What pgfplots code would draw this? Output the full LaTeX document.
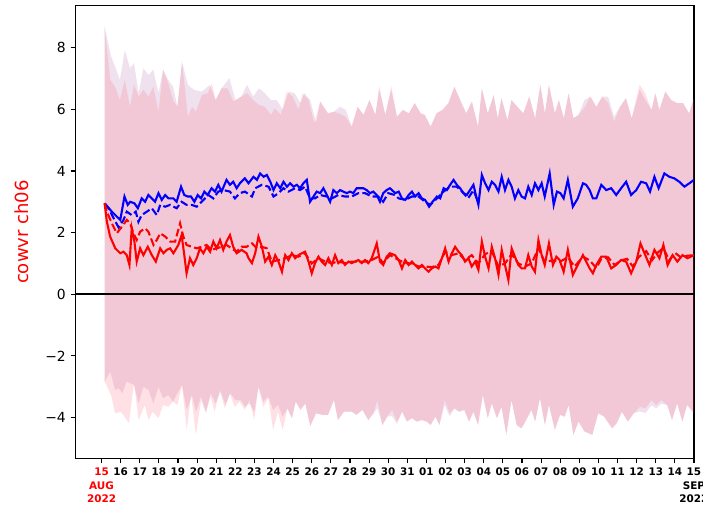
\documentclass[border=0pt]{standalone}
\usepackage{pgfplots}
\pgfplotsset{compat=1.18}
\usepgfplotslibrary{fillbetween}
\usepackage{fontspec}
\setmainfont{DejaVu Sans}
\definecolor{bandR}{RGB}{255,48,75}
\definecolor{bandB}{RGB}{148,55,142}
\begin{document}
\begin{tikzpicture}
\begin{axis}[
  scale only axis, width=445.3pt, height=325.9pt,
  xmin=-1.36, xmax=31, ymin=-5.32, ymax=9.36,
  axis line style={line width=0.8pt},
  tick align=outside, tick pos=left,
  major tick length=3.5pt,
  every tick/.style={black, line width=0.8pt},
  xtick={0,...,31},
  xticklabels={{\textcolor{red}{15}\\\textcolor{red}{AUG}\\\textcolor{red}{2022}},16,17,18,19,20,21,22,23,24,25,26,27,28,29,30,31,01,02,03,04,05,06,07,08,09,10,11,12,13,14,{15\\SEP\\2022}},
  xticklabel style={font=\bfseries\fontsize{7.5}{9.8}\selectfont, align=center, anchor=north},
  ytick={-4,-2,0,2,4,6,8},
  yticklabels={−4,−2,0,2,4,6,8},
  yticklabel style={font=\fontsize{10}{12}\selectfont},
  ylabel={cowvr ch06},
  ylabel style={at={(axis description cs:-0.0865,0.5)}, anchor=center, red, font=\fontsize{13}{15}\selectfont},
  clip=true,
]
% blue band
\addplot[name path=bu, draw=none] coordinates {(0.16,8.68) (0.50,7.71) (0.71,7.38) (0.96,6.95) (1.22,7.92) (1.49,7.33) (1.70,7.49) (1.94,6.52) (2.19,7.33) (2.46,7.11) (2.71,7.28) (2.98,6.52) (3.22,7.28) (3.49,6.95) (3.74,6.73) (3.97,6.08) (4.21,7.54) (4.52,6.79) (4.84,6.63) (5.25,6.57) (5.66,6.79) (5.97,6.30) (6.28,6.68) (6.69,7.01) (7.00,6.30) (7.31,6.41) (7.62,6.79) (7.93,6.41) (8.24,6.68) (8.55,6.52) (8.86,6.30) (9.17,6.30) (9.48,5.98) (9.79,6.57) (10.10,6.52) (10.41,6.20) (10.61,6.52) (10.92,6.30) (11.23,5.55) (11.44,6.25) (11.85,5.87) (12.16,5.92) (12.47,6.08) (12.78,5.98) (13.09,5.44) (13.40,6.08) (13.71,5.82) (14.02,6.30) (14.33,5.82) (14.53,6.63) (14.85,5.82) (15.16,6.63) (15.46,5.76) (15.77,5.98) (16.08,5.87) (16.39,6.20) (16.70,5.87) (16.91,5.82) (17.22,5.44) (17.53,5.87) (17.84,5.98) (18.15,6.20) (18.46,6.73) (18.77,6.30) (19.08,5.87) (19.38,6.25) (19.70,5.44) (19.90,6.68) (20.21,5.87) (20.52,6.46) (20.73,5.71) (20.93,6.36) (21.24,5.65) (21.45,6.30) (21.76,6.08) (22.07,5.87) (22.38,6.41) (22.69,5.71) (22.96,6.79) (23.20,5.87) (23.41,6.79) (23.72,5.87) (23.93,6.30) (24.19,5.71) (24.44,6.52) (24.69,5.71) (24.96,5.82) (25.27,6.30) (25.58,6.41) (25.89,6.08) (26.20,6.41) (26.51,6.41) (26.82,5.76) (27.13,6.08) (27.44,6.36) (27.74,5.71) (28.16,6.63) (28.46,6.30) (28.78,5.98) (28.98,6.52) (29.19,5.98) (29.50,6.57) (29.81,6.30) (30.12,6.20) (30.43,6.20) (30.74,5.87) (31.00,6.36)};
\addplot[name path=bl, draw=none] coordinates {(0.16,-2.83) (0.46,-2.51) (0.71,-3.10) (0.90,-3.05) (1.10,-3.21) (1.30,-2.83) (1.51,-2.89) (1.70,-2.94) (1.94,-3.54) (2.19,-3.00) (2.46,-3.10) (2.71,-3.54) (2.98,-3.00) (3.22,-3.37) (3.49,-3.27) (3.74,-3.48) (3.97,-3.21) (4.21,-2.94) (4.46,-3.75) (4.73,-3.27) (4.94,-3.81) (5.21,-3.32) (5.46,-3.81) (5.71,-3.21) (5.97,-3.54) (6.24,-3.16) (6.49,-3.59) (6.74,-3.21) (7.00,-3.43) (7.28,-3.43) (7.52,-3.65) (7.74,-3.54) (7.99,-3.81) (8.21,-3.00) (8.46,-3.48) (8.73,-3.32) (8.98,-3.75) (9.23,-3.59) (9.48,-3.97) (9.73,-3.70) (9.96,-4.02) (10.16,-3.48) (10.41,-3.75) (10.66,-3.54) (10.92,-4.27) (11.23,-3.86) (11.54,-3.91) (11.85,-3.91) (12.16,-3.43) (12.37,-4.08) (12.68,-3.81) (13.09,-3.81) (13.34,-3.91) (13.65,-3.75) (13.96,-4.08) (14.23,-3.86) (14.43,-3.70) (14.70,-4.24) (14.95,-3.97) (15.20,-3.95) (15.46,-4.20) (15.73,-3.81) (15.98,-4.13) (16.23,-4.02) (16.50,-4.13) (16.77,-4.08) (17.01,-4.13) (17.22,-4.24) (17.47,-3.97) (17.68,-4.24) (17.95,-3.60) (18.22,-3.95) (18.46,-3.70) (18.71,-3.81) (18.98,-3.75) (19.23,-4.13) (19.46,-3.81) (19.70,-4.24) (19.95,-3.27) (20.21,-4.02) (20.42,-3.54) (20.69,-4.02) (20.93,-3.65) (21.18,-4.56) (21.45,-3.43) (21.72,-4.24) (21.97,-4.35) (22.22,-4.08) (22.49,-3.75) (22.69,-4.13) (22.94,-3.37) (23.20,-4.24) (23.41,-3.59) (23.72,-4.40) (23.99,-3.91) (24.24,-3.97) (24.44,-3.59) (24.69,-4.56) (24.96,-4.13) (25.27,-4.45) (25.68,-4.56) (25.99,-3.86) (26.30,-3.97) (26.72,-4.35) (26.96,-4.18) (27.23,-3.81) (27.54,-4.13) (27.85,-3.86) (28.16,-3.80) (28.46,-3.85) (28.78,-3.60) (29.02,-3.70) (29.29,-3.55) (29.60,-3.59) (29.85,-4.08) (30.12,-3.54) (30.39,-4.13) (30.64,-3.59) (31.00,-3.86)};
\addplot[fill=bandB, fill opacity=0.15, draw=none] fill between[of=bu and bl];
% red band
\addplot[name path=ru, draw=none] coordinates {(0.16,8.68) (0.46,6.95) (0.71,6.73) (0.96,6.30) (1.22,6.95) (1.49,6.08) (1.70,6.79) (1.94,6.41) (2.19,6.63) (2.46,6.41) (2.71,6.73) (2.98,5.92) (3.22,7.28) (3.49,6.84) (3.74,6.30) (3.97,6.08) (4.21,7.54) (4.52,5.76) (4.73,6.08) (4.94,5.92) (5.25,6.46) (5.56,6.52) (5.77,6.84) (5.97,6.30) (6.28,6.68) (6.59,6.68) (6.90,6.25) (7.31,6.41) (7.62,6.52) (7.93,6.30) (8.24,6.14) (8.55,6.08) (8.86,5.82) (9.07,6.03) (9.38,5.82) (9.69,6.57) (10.00,6.41) (10.31,5.98) (10.52,6.52) (10.83,6.30) (11.13,5.55) (11.44,6.25) (11.85,5.87) (12.16,5.92) (12.47,5.85) (12.78,5.75) (13.09,5.44) (13.40,6.08) (13.71,5.82) (14.02,6.30) (14.33,5.82) (14.53,6.75) (14.85,5.82) (15.16,6.75) (15.46,5.76) (15.77,5.98) (16.08,5.87) (16.39,6.20) (16.70,5.87) (16.91,5.82) (17.22,5.44) (17.53,5.87) (17.84,5.98) (18.15,6.20) (18.46,6.73) (18.77,6.30) (19.08,5.87) (19.38,6.25) (19.70,5.44) (19.90,6.68) (20.21,5.87) (20.52,6.46) (20.73,5.71) (20.93,6.36) (21.24,5.65) (21.45,6.30) (21.76,6.08) (22.07,5.87) (22.38,6.41) (22.69,5.71) (22.96,6.79) (23.20,5.87) (23.41,6.79) (23.72,5.87) (23.93,6.30) (24.19,5.71) (24.44,6.52) (24.69,5.71) (24.96,5.82) (25.27,6.05) (25.58,6.41) (25.89,6.08) (26.20,6.41) (26.51,6.20) (26.82,5.60) (27.13,6.08) (27.44,6.36) (27.74,5.71) (28.16,6.80) (28.46,6.50) (28.78,5.98) (28.98,6.52) (29.19,5.98) (29.50,6.57) (29.81,6.30) (30.12,6.20) (30.43,6.20) (30.74,5.87) (31.00,6.36)};
\addplot[name path=rl, draw=none] coordinates {(0.16,-2.83) (0.50,-3.27) (0.71,-3.86) (1.02,-3.81) (1.43,-4.18) (1.70,-2.89) (1.94,-4.08) (2.26,-3.59) (2.46,-4.08) (2.67,-3.81) (2.98,-4.02) (3.22,-3.59) (3.49,-3.65) (3.74,-3.48) (3.97,-3.59) (4.21,-2.94) (4.46,-4.40) (4.69,-3.27) (4.94,-4.56) (5.21,-3.43) (5.46,-3.86) (5.71,-3.32) (5.92,-3.81) (6.18,-3.10) (6.45,-3.70) (6.70,-3.21) (6.97,-3.65) (7.22,-3.48) (7.49,-3.75) (7.74,-3.43) (7.99,-4.08) (8.21,-3.00) (8.46,-3.65) (8.73,-3.37) (8.98,-4.40) (9.23,-3.81) (9.48,-4.40) (9.73,-3.70) (9.96,-4.02) (10.16,-3.48) (10.41,-3.75) (10.66,-3.54) (10.92,-4.27) (11.23,-3.86) (11.54,-3.91) (11.85,-3.91) (12.16,-3.43) (12.37,-4.08) (12.68,-3.81) (13.09,-3.81) (13.34,-3.91) (13.65,-3.75) (13.96,-4.08) (14.23,-3.86) (14.43,-3.43) (14.70,-4.24) (14.95,-3.97) (15.20,-3.75) (15.46,-4.13) (15.73,-3.81) (15.98,-4.13) (16.23,-4.02) (16.50,-4.13) (16.77,-4.08) (17.01,-4.13) (17.22,-4.24) (17.47,-3.97) (17.68,-4.24) (17.95,-3.43) (18.22,-3.86) (18.46,-3.70) (18.71,-3.81) (18.98,-3.75) (19.23,-4.13) (19.46,-3.81) (19.70,-4.24) (19.95,-3.27) (20.21,-4.02) (20.42,-3.54) (20.69,-4.02) (20.93,-3.65) (21.18,-4.56) (21.45,-3.43) (21.72,-4.24) (21.97,-4.35) (22.22,-4.08) (22.49,-3.75) (22.69,-4.13) (22.94,-3.37) (23.20,-4.24) (23.41,-3.59) (23.72,-4.40) (23.99,-3.91) (24.24,-3.97) (24.44,-3.59) (24.69,-4.56) (24.96,-4.13) (25.27,-4.45) (25.68,-4.56) (25.99,-3.86) (26.30,-3.97) (26.72,-4.35) (26.96,-4.18) (27.23,-3.81) (27.54,-4.13) (27.85,-3.86) (28.16,-3.65) (28.46,-3.70) (28.78,-3.43) (29.02,-3.59) (29.29,-3.43) (29.60,-3.59) (29.85,-4.08) (30.12,-3.54) (30.39,-4.13) (30.64,-3.59) (31.00,-3.86)};
\addplot[fill=bandR, fill opacity=0.15, draw=none] fill between[of=ru and rl];
% zero line
\addplot[black, line width=1.2pt] coordinates {(-1.36,0) (31,0)};
% blue dashed
\addplot[blue, line width=1.5pt, dash pattern=on 5.5pt off 2.4pt] coordinates {(0.16,2.95) (0.37,2.79) (0.63,2.47) (0.89,2.17) (1.15,2.41) (1.32,2.68) (1.58,2.57) (1.79,2.68) (1.93,2.35) (2.10,2.57) (2.37,2.68) (2.63,2.79) (2.89,2.57) (3.07,2.90) (3.33,2.84) (3.59,2.90) (3.93,2.79) (4.19,3.00) (4.45,2.90) (4.72,2.90) (4.98,2.84) (5.24,3.00) (5.59,3.22) (5.85,3.11) (6.11,3.33) (6.37,3.38) (6.72,3.33) (6.98,3.11) (7.24,3.28) (7.50,3.33) (7.87,3.17) (8.04,3.44) (8.39,3.55) (8.74,3.49) (9.00,3.17) (9.26,3.28) (9.52,3.44) (9.78,3.33) (10.13,3.44) (10.39,3.38) (10.65,3.49) (10.91,3.11) (11.17,3.11) (11.44,3.22) (11.79,3.17) (12.05,3.11) (12.39,3.22) (12.74,3.17) (13.09,3.17) (13.44,3.28) (13.79,3.28) (14.14,3.17) (14.48,3.17) (14.74,3.00) (15.00,3.28) (15.35,3.22) (15.55,3.11) (15.89,3.06) (16.24,3.17) (16.59,3.17) (16.93,3.00) (17.20,2.90) (17.55,3.11) (17.90,3.33) (18.24,3.49) (18.59,3.49) (18.94,3.28) (19.18,3.11) (19.46,3.38) (19.63,3.11)};
% blue solid
\addplot[blue, line width=1.5pt] coordinates {(0.16,2.95) (0.54,2.68) (0.98,2.41) (1.20,3.17) (1.37,2.90) (1.50,3.00) (1.72,2.95) (1.90,2.79) (2.10,3.11) (2.28,3.00) (2.45,3.22) (2.63,3.11) (2.80,3.00) (2.98,3.28) (3.15,3.06) (3.33,3.22) (3.50,3.11) (3.76,3.11) (3.93,3.00) (4.16,3.49) (4.33,3.22) (4.51,3.17) (4.68,3.17) (4.86,3.00) (5.03,3.22) (5.21,3.11) (5.38,3.33) (5.55,3.22) (5.76,3.44) (5.94,3.33) (6.11,3.55) (6.28,3.33) (6.54,3.71) (6.72,3.55) (6.89,3.65) (7.07,3.44) (7.24,3.60) (7.50,3.76) (7.69,3.60) (7.95,3.81) (8.13,3.71) (8.30,3.92) (8.48,3.81) (8.65,3.87) (8.83,3.65) (9.00,3.38) (9.17,3.60) (9.35,3.44) (9.52,3.65) (9.70,3.49) (9.87,3.60) (10.04,3.49) (10.22,3.55) (10.39,3.44) (10.56,3.60) (10.74,3.71) (10.91,3.00) (11.09,3.17) (11.26,3.33) (11.44,3.28) (11.61,3.44) (11.79,3.22) (11.96,3.00) (12.13,3.38) (12.31,3.28) (12.48,3.38) (12.65,3.33) (12.83,3.28) (13.00,3.33) (13.17,3.28) (13.35,3.44) (13.52,3.44) (13.70,3.44) (13.87,3.38) (14.05,3.28) (14.22,3.33) (14.40,3.22) (14.57,3.00) (14.74,3.28) (14.92,3.38) (15.09,3.44) (15.37,3.28) (15.55,3.33) (15.72,3.11) (15.89,3.06) (16.07,3.22) (16.24,3.33) (16.41,3.17) (16.59,3.28) (16.76,3.11) (16.93,3.06) (17.14,2.84) (17.32,3.00) (17.55,3.17) (17.72,3.11) (17.90,3.44) (18.07,3.38) (18.24,3.55) (18.42,3.71) (18.59,3.55) (18.76,3.44) (18.94,3.28) (19.11,3.22) (19.28,3.38) (19.46,3.55) (19.63,3.11) (19.72,2.90) (19.90,3.87) (20.07,3.60) (20.25,3.38) (20.42,3.65) (20.59,3.55) (20.77,3.33) (20.94,3.81) (21.11,3.38) (21.29,3.71) (21.46,3.49) (21.63,3.11) (21.81,3.38) (21.98,3.17) (22.16,3.11) (22.33,3.49) (22.51,3.22) (22.68,3.60) (22.86,3.38) (23.03,3.60) (23.19,3.17) (23.45,3.92) (23.66,2.90) (23.83,3.33) (24.01,3.28) (24.18,3.11) (24.40,3.71) (24.66,2.84) (24.92,3.11) (25.19,3.60) (25.36,3.55) (25.54,3.38) (25.71,3.11) (25.89,3.11) (26.15,3.55) (26.41,3.38) (26.67,3.44) (26.93,3.22) (27.19,3.44) (27.45,3.65) (27.71,3.22) (27.98,3.38) (28.23,3.65) (28.50,3.60) (28.70,3.33) (28.93,3.81) (29.15,3.44) (29.45,3.92) (29.71,3.81) (29.97,3.76) (30.23,3.65) (30.50,3.49) (30.76,3.60) (31.00,3.71)};
% red dashed
\addplot[red, line width=1.5pt, dash pattern=on 5.5pt off 2.4pt] coordinates {(0.16,2.95) (0.28,2.68) (0.54,2.30) (0.80,1.98) (1.06,2.19) (1.32,2.41) (1.50,2.30) (1.67,1.98) (1.84,1.76) (2.02,2.03) (2.28,2.14) (2.45,2.03) (2.72,1.60) (2.89,1.76) (3.07,1.98) (3.33,1.87) (3.59,1.71) (3.85,1.71) (4.11,2.30) (4.28,1.87) (4.45,1.60) (4.72,1.54) (4.98,1.49) (5.24,1.54) (5.50,1.60) (5.76,1.44) (6.02,1.49) (6.28,1.54) (6.54,1.60) (6.80,1.49) (7.07,1.38) (7.33,1.54) (7.59,1.54) (7.87,1.65) (8.13,1.49) (8.39,1.54) (8.65,1.49) (8.91,1.06) (9.26,1.11) (9.61,1.17) (9.96,1.27) (10.30,1.22) (10.65,1.33) (11.00,1.00) (11.35,1.17) (11.70,1.06) (12.05,1.01) (12.39,1.06) (12.74,1.01) (13.09,1.06) (13.44,1.06) (13.79,1.06) (14.14,1.11) (14.48,1.22) (14.74,1.01) (15.09,1.27) (15.55,1.11) (15.89,1.01) (16.24,1.00) (16.59,0.90) (16.93,0.90) (17.28,0.88) (17.63,0.95) (17.98,1.38) (18.33,1.27) (18.68,1.33) (19.02,1.11) (19.37,1.27) (19.72,1.00) (20.07,1.30) (20.42,1.40) (20.77,0.90) (21.11,1.00) (21.46,1.30) (21.81,1.00) (22.16,0.90) (22.51,1.00) (22.86,1.50) (23.19,1.05) (23.62,1.10) (23.97,1.05) (24.40,1.20) (24.75,0.90) (25.19,1.22) (25.54,1.10) (25.89,0.85) (26.15,1.15) (26.50,1.20) (26.85,0.95) (27.19,1.10) (27.50,1.15) (27.80,0.90) (28.10,1.20) (28.50,1.40) (28.80,1.10) (29.10,1.35) (29.40,1.50) (29.70,1.10) (30.00,1.35) (30.30,1.20) (30.66,1.25) (31.00,1.27)};
% red solid
\addplot[red, line width=1.5pt] coordinates {(0.16,2.95) (0.28,2.35) (0.45,1.87) (0.72,1.49) (0.98,1.33) (1.15,1.38) (1.32,1.27) (1.46,0.95) (1.58,2.14) (1.72,1.71) (1.84,1.06) (2.02,1.49) (2.19,1.27) (2.42,1.54) (2.63,1.27) (2.84,1.06) (3.07,1.49) (3.24,1.33) (3.41,1.44) (3.59,1.49) (3.76,1.33) (4.02,1.60) (4.19,1.92) (4.33,1.27) (4.45,0.68) (4.63,1.17) (4.80,0.95) (4.98,1.17) (5.15,1.49) (5.33,1.33) (5.50,1.54) (5.68,1.38) (5.85,1.71) (6.02,1.49) (6.20,1.76) (6.37,1.44) (6.54,1.71) (6.72,1.92) (6.89,1.54) (7.07,1.33) (7.33,1.44) (7.59,1.33) (7.69,1.17) (7.87,1.01) (8.04,1.33) (8.21,1.87) (8.39,1.54) (8.56,1.06) (8.74,1.22) (8.91,0.95) (9.09,1.27) (9.26,1.06) (9.44,0.73) (9.61,1.27) (9.78,1.11) (9.96,1.33) (10.13,1.17) (10.30,1.27) (10.48,1.33) (10.65,1.38) (10.83,1.06) (11.00,0.68) (11.17,1.01) (11.35,1.22) (11.52,1.06) (11.70,0.95) (11.87,1.17) (12.05,0.95) (12.22,1.27) (12.39,1.01) (12.57,1.11) (12.74,0.95) (12.92,1.06) (13.09,1.01) (13.26,1.06) (13.44,1.11) (13.61,1.01) (13.79,1.11) (13.96,1.01) (14.14,1.17) (14.40,1.65) (14.57,1.06) (14.74,0.95) (14.92,1.22) (15.09,1.33) (15.35,1.27) (15.55,1.11) (15.72,0.84) (15.89,1.11) (16.07,0.95) (16.24,1.06) (16.41,0.95) (16.59,0.84) (16.76,0.95) (16.93,0.84) (17.11,0.73) (17.28,0.84) (17.46,0.90) (17.63,0.84) (17.81,1.17) (17.98,1.49) (18.16,1.06) (18.33,1.33) (18.50,1.54) (18.68,1.38) (18.85,1.27) (19.02,1.06) (19.20,1.17) (19.37,0.90) (19.55,1.06) (19.72,0.79) (19.90,1.71) (20.07,1.22) (20.25,0.84) (20.42,1.54) (20.59,1.17) (20.77,0.63) (20.94,1.44) (21.11,0.95) (21.29,0.46) (21.46,1.49) (21.63,1.22) (21.81,0.95) (21.98,0.84) (22.16,0.84) (22.33,1.27) (22.51,0.90) (22.68,0.73) (22.86,1.76) (23.03,1.27) (23.19,0.95) (23.41,1.65) (23.62,0.95) (23.80,1.22) (23.97,1.11) (24.18,0.73) (24.40,1.44) (24.66,0.63) (24.92,0.95) (25.19,1.27) (25.36,1.06) (25.54,0.84) (25.71,0.68) (25.89,0.95) (26.15,1.22) (26.41,1.22) (26.67,0.84) (26.93,0.95) (27.19,1.11) (27.45,1.06) (27.71,0.68) (27.98,1.06) (28.20,1.65) (28.41,1.33) (28.67,0.95) (28.93,1.44) (29.19,1.17) (29.40,1.60) (29.62,0.95) (29.88,1.27) (30.13,1.06) (30.40,1.27) (30.66,1.17) (31.00,1.27)};
\end{axis}
\pgfresetboundingbox
\path[use as bounding box] (-54.4pt,-33.6pt) rectangle (451.8pt,330.0pt);
\end{tikzpicture}
\end{document}
